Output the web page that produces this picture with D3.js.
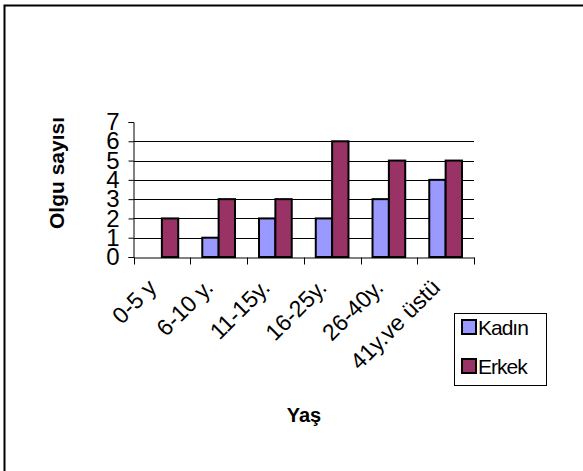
<!DOCTYPE html>
<html>
<head>
<meta charset="utf-8">
<script src="https://cdn.jsdelivr.net/npm/d3@7"></script>
<style>
  html, body { margin: 0; padding: 0; background: #fff; }
  svg { display: block; }
  text { font-family: "Liberation Sans", Arial, sans-serif; fill: #000; }
</style>
</head>
<body>
<svg id="chart" width="583" height="471"></svg>
<script>
const categories = ["0-5 y", "6-10 y.", "11-15y.", "16-25y.", "26-40y.", "41y.ve üstü"];
const seriesNames = ["Kadın", "Erkek"];
const kadin = [0, 1, 2, 2, 3, 4];
const erkek = [2, 3, 3, 6, 5, 5];
const yTicks = [0, 1, 2, 3, 4, 5, 6, 7];
const gridValues = [1, 2, 3, 4, 5, 6];
const colors = ["#9999FF", "#993366"];

const svg = d3.select("#chart");

// outer frame (extends beyond right/bottom edges)
svg.append("rect")
  .attr("x", 4.5).attr("y", 5.5)
  .attr("width", 700).attr("height", 600)
  .attr("fill", "none").attr("stroke", "#000").attr("stroke-width", 2);

const x = d3.scaleBand().domain(categories).range([133.5, 474]).paddingInner(0).paddingOuter(0);
const xs = d3.scaleBand().domain(seriesNames).range([0, x.bandwidth()]).paddingInner(0).paddingOuter(0.735);
const y = d3.scaleLinear().domain([0, 7]).range([257, 122]);

// gridlines
svg.append("g").selectAll("line").data(gridValues).join("line")
  .attr("x1", 133.5).attr("x2", 474)
  .attr("y1", d => Math.round(y(d)) + 0.5).attr("y2", d => Math.round(y(d)) + 0.5)
  .attr("stroke", "#000").attr("stroke-width", 1);

// bars
const data = categories.map((c, i) => ({ c, vals: [kadin[i], erkek[i]] }));
const groups = svg.append("g").selectAll("g").data(data).join("g")
  .attr("transform", d => `translate(${x(d.c)},0)`);
groups.selectAll("rect")
  .data(d => d.vals.map((v, j) => ({ s: seriesNames[j], v, j })).filter(e => e.v > 0))
  .join("rect")
  .attr("x", e => xs(e.s))
  .attr("width", xs.bandwidth())
  .attr("y", e => y(e.v))
  .attr("height", e => y(0) - y(e.v))
  .attr("fill", e => colors[e.j])
  .attr("stroke", "#000").attr("stroke-width", 2);

// y axis
const yAxis = d3.axisLeft(y).tickValues(yTicks).tickSize(5).tickPadding(9).tickFormat(d3.format("d"));
const yg = svg.append("g").attr("transform", "translate(133.5,0)").call(yAxis);
yg.select(".domain").attr("stroke", "#000");
yg.selectAll(".tick line").attr("stroke", "#000");
yg.selectAll("text").style("font-size", "24px").style("font-family", "Liberation Sans, Arial, sans-serif").attr("fill", "#000");

// x axis
const xAxis = d3.axisBottom(x).tickValues([]).tickSize(0);
const xg = svg.append("g").attr("transform", "translate(0,257.5)").call(xAxis);
xg.select(".domain").attr("stroke", "#000");
const boundaries = categories.map(c => x(c)).concat([x.range()[1]]);
xg.selectAll("line.tk").data(boundaries).join("line").attr("class", "tk")
  .attr("x1", d => Math.round(d) + 0.5).attr("x2", d => Math.round(d) + 0.5)
  .attr("y1", 0).attr("y2", 7).attr("stroke", "#000");

// x labels rotated
svg.append("g").selectAll("text").data(categories).join("text")
  .attr("transform", c => `translate(${x(c) + x.bandwidth() / 2 - 4},289) rotate(-45)`)
  .attr("text-anchor", "end")
  .style("font-size", "23px")
  .text(c => c);

// axis titles
svg.append("text")
  .attr("transform", "translate(64,173) rotate(-90)")
  .attr("text-anchor", "middle")
  .style("font-size", "21px").style("font-weight", "bold")
  .text("Olgu sayısı");

svg.append("text")
  .attr("x", 304).attr("y", 422)
  .attr("text-anchor", "middle")
  .style("font-size", "20px").style("font-weight", "bold")
  .text("Yaş");

// legend
const lg = svg.append("g");
lg.append("rect").attr("x", 454.5).attr("y", 313.5).attr("width", 92).attr("height", 72)
  .attr("fill", "#fff").attr("stroke", "#000").attr("stroke-width", 1);
const li = lg.selectAll("g").data(seriesNames).join("g")
  .attr("transform", (d, i) => `translate(462,${320 + i * 39})`);
li.append("rect").attr("x", 0).attr("y", 0).attr("width", 14).attr("height", 14)
  .attr("fill", (d, i) => colors[i]).attr("stroke", "#000").attr("stroke-width", 2);
li.append("text").attr("x", 16).attr("y", 15)
  .style("font-size", "21px").style("letter-spacing", "-1px")
  .text(d => d);
</script>
</body>
</html>
